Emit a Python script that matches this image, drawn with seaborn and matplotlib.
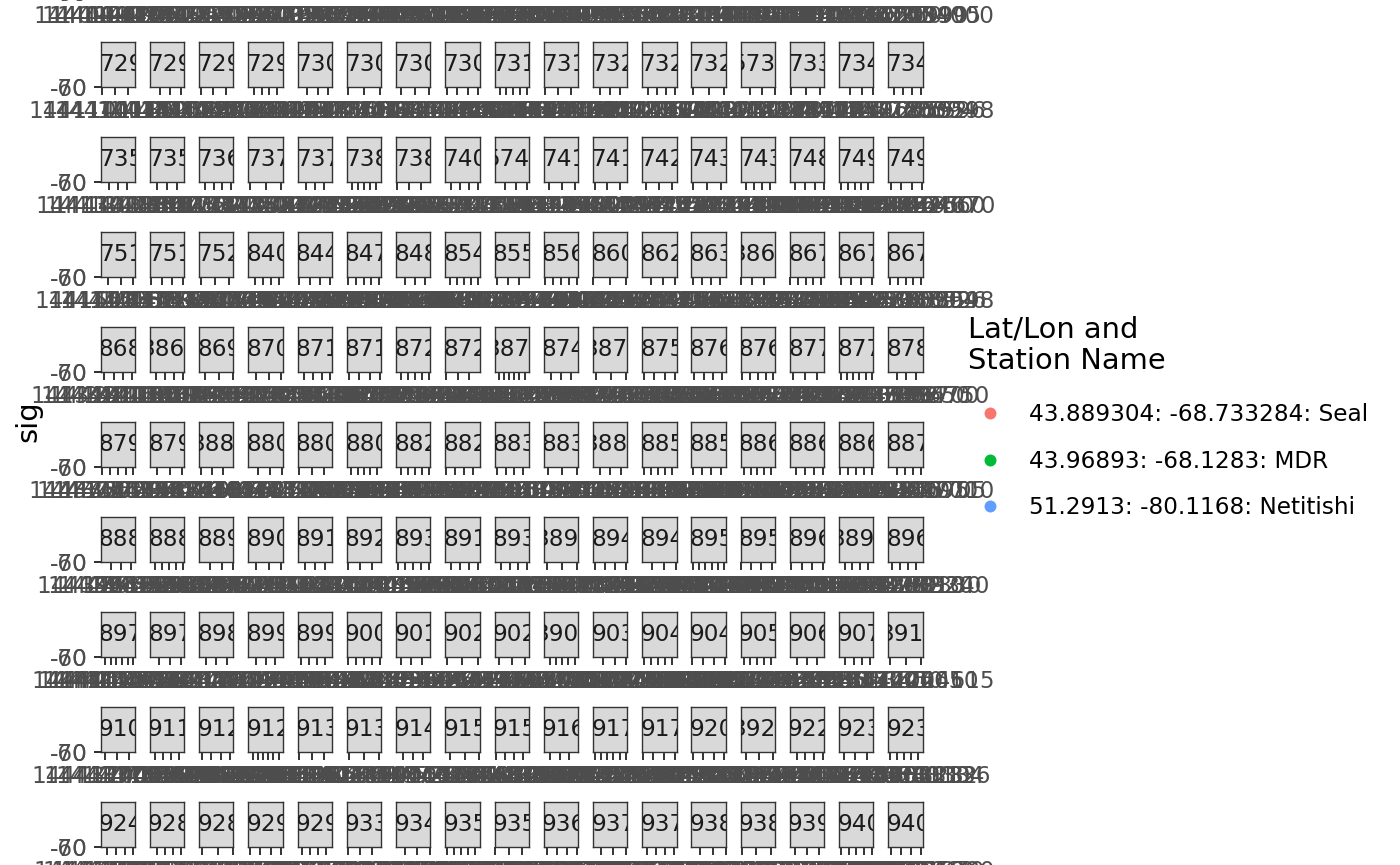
import matplotlib
matplotlib.use("Agg")
import matplotlib.pyplot as plt
import numpy as np
import pandas as pd
import seaborn as sns
from matplotlib.lines import Line2D
from matplotlib.ticker import MaxNLocator

# ---------------- data ----------------
# facet (tag) labels, 17 facets per row; first row sits above the visible canvas
tag_rows = [
    ["715", "716", "716", "718", "719", "720", "721", "721", "722", "723", "724", "725", "726", "726", "727", "728", "728"],
    ["729", "729", "729", "729", "730", "730", "730", "730", "731", "731", "732", "732", "732", "5734", "733", "734", "734"],
    ["735", "735", "736", "737", "737", "738", "738", "740", "5741", "741", "741", "742", "743", "743", "748", "749", "749"],
    ["751", "751", "752", "840", "844", "847", "848", "854", "855", "856", "860", "862", "863", "3866", "867", "867", "867"],
    ["868", "3868", "869", "870", "871", "871", "872", "872", "3873", "874", "3874", "875", "876", "876", "877", "877", "878"],
    ["879", "879", "3880", "880", "880", "880", "882", "882", "883", "883", "3884", "885", "885", "886", "886", "886", "887"],
    ["888", "888", "889", "890", "891", "892", "893", "891", "893", "3891", "894", "894", "895", "895", "896", "3895", "896"],
    ["897", "897", "898", "899", "899", "900", "901", "902", "902", "3902", "903", "904", "904", "905", "906", "907", "3910"],
    ["910", "911", "912", "912", "913", "913", "914", "915", "915", "916", "917", "917", "920", "3921", "922", "923", "923"],
    ["924", "928", "928", "929", "929", "933", "934", "935", "935", "936", "937", "937", "938", "938", "939", "940", "940"],
]

# first detection time of each facet (epoch seconds)
start_rows = [
    [1440901234, 1440902517, 1440915880, 1440921346, 1440934775, 1440940018, 1440957392, 1440963661, 1440978204, 1440981937, 1440995570, 1441002843, 1441014129, 1441029658, 1441031470, 1441046205, 1441053988],
    [1441101185, 1441110372, 1441123604, 1441131947, 1441142261, 1441156830, 1441162415, 1441178092, 1441185539, 1441193706, 1441204477, 1441216951, 1441222308, 1441239864, 1441241720, 1441257143, 1441266591],
    [1441302846, 1441311759, 1441327013, 1441338420, 1441345962, 1441359287, 1441363504, 1441370851, 1441388136, 1441396475, 1441402918, 1441415643, 1441429370, 1441431085, 1441447792, 1441458214, 1441464639],
    [1441503377, 1441518925, 1441524140, 1442650813, 1442717498, 1442803352, 1442839671, 1443002785, 1443047169, 1443090423, 1443182604, 1443241957, 1443265318, 1441586702, 1443319846, 1443327251, 1443338590],
    [1443401128, 1441601943, 1443452386, 1443478705, 1443510062, 1443517439, 1443549871, 1443556204, 1441612587, 1443608935, 1441629318, 1443653740, 1443680196, 1443687523, 1443702859, 1443711384, 1443736610],
    [1443750296, 1443758731, 1441640155, 1443781467, 1443789820, 1443796503, 1443820947, 1443827362, 1443851689, 1443859014, 1441668437, 1443888752, 1443896185, 1443910528, 1443917843, 1443925276, 1443940691],
    [1443961504, 1443968839, 1443987262, 1444003597, 1444022918, 1444041345, 1444058670, 1444063021, 1444066486, 1441681709, 1444089134, 1444096467, 1444110892, 1444118215, 1444131640, 1441693975, 1444139308],
    [1444150733, 1444158066, 1444176491, 1444190824, 1444198159, 1444213582, 1444230917, 1444249340, 1444256675, 1441705008, 1444271431, 1444288756, 1444296181, 1444313514, 1444332849, 1444351272, 1441724605],
    [1444370038, 1444389363, 1444408798, 1444416131, 1444431564, 1444438897, 1444457322, 1444476655, 1444483080, 1444502413, 1444521846, 1444529171, 1444580604, 1441736937, 1444611362, 1444630795, 1444638128],
    [1444650551, 1444720984, 1444728319, 1444747652, 1444755087, 1444820410, 1444839843, 1444858276, 1444865601, 1444884034, 1444903467, 1444910892, 1444929225, 1444936650, 1444955083, 1444974416, 1444981849],
]

# duration (s) between first and last detection of each facet
span_rows = [
    [40, 6, 120, 15, 8, 300, 25, 4, 60, 10, 90, 5, 35, 180, 7, 50, 12],
    [12, 30, 5, 8, 150, 20, 45, 6, 9, 240, 16, 70, 4, 25, 11, 55, 7],
    [18, 6, 90, 4, 35, 10, 260, 7, 14, 48, 5, 120, 22, 8, 65, 9, 30],
    [5, 75, 11, 40, 6, 200, 16, 9, 28, 4, 95, 13, 7, 55, 20, 150, 8],
    [33, 7, 110, 5, 18, 60, 9, 280, 12, 6, 42, 15, 85, 4, 26, 10, 170],
    [8, 50, 14, 130, 5, 24, 9, 70, 36, 11, 6, 220, 17, 45, 7, 100, 19],
    [60, 9, 27, 5, 160, 13, 40, 7, 90, 21, 6, 52, 10, 300, 15, 8, 38],
    [11, 140, 6, 32, 19, 8, 75, 4, 48, 125, 14, 9, 58, 23, 6, 190, 10],
    [26, 8, 65, 12, 5, 210, 16, 44, 7, 80, 10, 29, 6, 115, 18, 54, 9],
    [7, 95, 20, 6, 38, 13, 250, 9, 47, 16, 5, 70, 24, 11, 135, 8, 31],
]

# signal strength of the detections in each facet
sig_rows = [
    [-64, -61, -67, -70, -62, -65, -59, -68, -63, -66, -71, -60, -64, -69, -62, -66, -63],
    [-62, -66, -60, -69, -63, -65, -71, -61, -67, -64, -58, -68, -62, -65, -70, -63, -66],
    [-67, -63, -70, -61, -65, -68, -62, -59, -66, -64, -69, -61, -63, -67, -60, -65, -71],
    [-60, -68, -64, -66, -62, -70, -63, -65, -61, -69, -64, -67, -59, -66, -62, -68, -63],
    [-65, -61, -69, -63, -67, -60, -66, -64, -70, -62, -68, -65, -61, -63, -69, -64, -60],
    [-63, -67, -62, -70, -64, -61, -68, -66, -59, -65, -63, -69, -62, -67, -64, -60, -66],
    [-68, -64, -60, -66, -63, -69, -61, -65, -67, -62, -70, -64, -66, -61, -68, -63, -65],
    [-61, -65, -69, -62, -66, -64, -60, -70, -63, -67, -62, -65, -68, -64, -59, -66, -63],
    [-66, -62, -64, -68, -61, -65, -69, -63, -60, -67, -64, -62, -66, -70, -63, -61, -68],
    [-64, -69, -63, -61, -67, -62, -65, -68, -64, -60, -66, -63, -70, -62, -65, -67, -61],
]

# receiving station of each facet (S = Seal, M = MDR, N = Netitishi)
station_rows = [
    "SSSMSSNSSMSSSNSSM",
    "SSMSSSNSSMSSSNSMS",
    "SMSSSNSSMSSSNSSMS",
    "SSMSNSSSMSSNSSMSS",
    "SNSSMSSSNSMSSSNSS",
    "MSSNSSMSSSNSSMSSS",
    "SSNSMSSSNSSMSSNSS",
    "SMSSSNSSMSSNSSSMS",
    "SSMSSNSSSMSSNSSSM",
    "SNSSMSSSNSSMSSSNS",
]

station_names = ["43.889304: -68.733284: Seal", "43.96893: -68.1283: MDR", "51.2913: -80.1168: Netitishi"]
station_colors = ["#F8766D", "#00BA38", "#619CFF"]
station_code = {"S": 0, "M": 1, "N": 2}
y_ticks = [-70, -60]
legend_title = "Lat/Lon and\nStation Name"
y_title = "sig"

records = []
for r, tags in enumerate(tag_rows):
    for c, tag in enumerate(tags):
        st = station_names[station_code[station_rows[r][c]]]
        t0 = start_rows[r][c]
        for t in (t0, t0 + span_rows[r][c]):
            records.append(dict(row=r, col=c, tag=tag, ts=t, sig=sig_rows[r][c], station=st))
df = pd.DataFrame(records)

# ---------------- figure ----------------
sns.set_theme(style="white")
plt.rcParams["font.family"] = ["DejaVu Sans"]
plt.rcParams["axes.unicode_minus"] = False

W, H = 1400, 865
fig = plt.figure(figsize=(W / 100, H / 100), dpi=100)
FS = 16.7
TICK_C = "#333333"
LAB_C = "#4D4D4D"
STRIP_W = 34.3


def box(x, top, w, h):
    return [x / W, 1 - (top + h) / H, w / W, h / H]


for (r, c), sub in df.groupby(["row", "col"]):
    x = 100.7 + 49.23 * c
    top = -53 + 95 * r
    # strip
    sax = fig.add_axes(box(x, top, STRIP_W, 45))
    sax.set_facecolor("#D9D9D9")
    sax.set_xticks([])
    sax.set_yticks([])
    for sp in sax.spines.values():
        sp.set_visible(True)
        sp.set_color(TICK_C)
        sp.set_linewidth(1.0)
    sax.text(0.5 + 3.0 / STRIP_W, 0.5, sub["tag"].iloc[0], ha="center", va="center",
             transform=sax.transAxes, fontsize=FS, color="#1A1A1A", clip_on=True)
    # panel (collapsed to zero height)
    pax = fig.add_axes(box(x, top + 45, STRIP_W, 0.001))
    pax.set_facecolor("none")
    sns.scatterplot(data=sub, x="ts", y="sig", hue="station", hue_order=station_names,
                    palette=station_colors, ax=pax, legend=False, s=20, linewidth=0)
    t0, t1 = sub["ts"].min(), sub["ts"].max()
    pad = 0.05 * (t1 - t0)
    pax.set_xlim(t0 - pad, t1 + pad)
    pax.set_ylim(-73, -57)
    pax.xaxis.set_major_locator(MaxNLocator(nbins=4, steps=[1, 2, 2.5, 5, 10], integer=True, min_n_ticks=3))
    pax.ticklabel_format(axis="x", style="plain", useOffset=False)
    pax.set_yticks(y_ticks)
    pax.set_xlabel("")
    pax.set_ylabel("")
    for sp in pax.spines.values():
        sp.set_visible(False)
    pax.tick_params(axis="x", bottom=True, length=5.4, width=1.4, color=TICK_C,
                    labelsize=FS, labelcolor=LAB_C, pad=4.0)
    if c == 0:
        pax.tick_params(axis="y", left=True, length=5.4, width=1.4, color=TICK_C,
                        labelsize=FS, labelcolor=LAB_C, pad=4.0)
    else:
        pax.tick_params(axis="y", left=False, labelleft=False)

fig.text(28 / W, 1 - 421 / H, y_title, rotation=90, ha="center", va="center", fontsize=20.8, color="black")

handles = [Line2D([0], [0], marker="o", linestyle="", markersize=8.6,
                  markerfacecolor=col, markeredgewidth=0) for col in station_colors]
leg = fig.legend(handles, station_names, title=legend_title, loc="upper left",
                 bbox_to_anchor=(968 / W, 1 - 315 / H), frameon=False, fontsize=FS,
                 title_fontsize=20.8, borderpad=0, borderaxespad=0, handlelength=1.9,
                 handletextpad=0.73, labelspacing=1.0, alignment="left", labelcolor="black")
leg.get_title().set_color("black")
leg._legend_box.sep += 3.5

fig.savefig("out.png", dpi=100)
